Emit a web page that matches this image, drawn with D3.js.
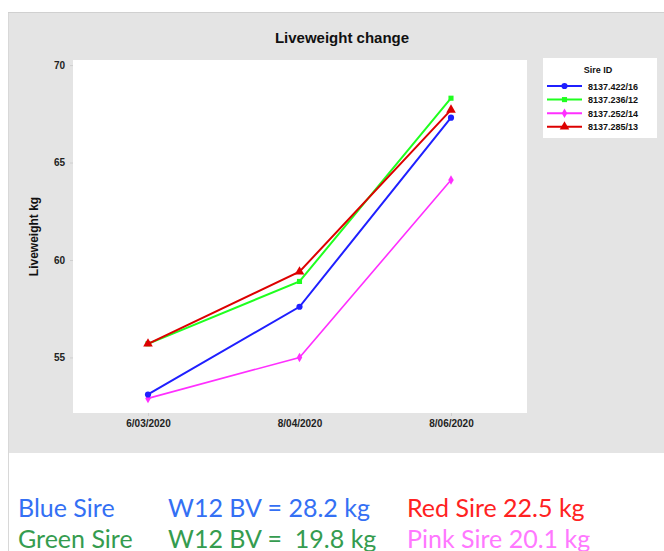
<!DOCTYPE html>
<html><head><meta charset="utf-8">
<script src="https://cdn.jsdelivr.net/npm/d3@7"></script>
<style>
html,body{margin:0;padding:0;background:#fff;}
svg{display:block;}
</style></head>
<body>
<script>
const dates = ["6/03/2020", "8/04/2020", "8/06/2020"];
const sireIds = ["8137.422/16", "8137.236/12", "8137.252/14", "8137.285/13"];
const blueValues = [53.1, 57.6, 67.3];
const greenValues = [55.7, 58.9, 68.3];
const pinkValues = [52.9, 55.0, 64.1];
const redValues = [55.7, 59.4, 67.7];
const seriesColors = ["#1f1fff", "#1fff1f", "#ff2fff", "#dd0000"];
const seriesSymbols = ["circle", "square", "diamond", "triangle"];
const yTicks = [55, 60, 65, 70];
const noteRows = [
  [{t:"Blue Sire", c:"#3470f4"}, {t:"W12 BV = 28.2 kg", c:"#3470f4"}, {t:"Red Sire 22.5 kg", c:"#ff2222"}],
  [{t:"Green Sire", c:"#359c4f"}, {t:"W12 BV =  19.8 kg", c:"#359c4f"}, {t:"Pink Sire 20.1 kg", c:"#ff78ff"}]
];

const series = sireIds.map((id, i) => ({
  id, color: seriesColors[i], symbol: seriesSymbols[i],
  values: [blueValues, greenValues, pinkValues, redValues][i]
}));

const W = 664, H = 551;
const svg = d3.select("body").append("svg").attr("width", W).attr("height", H);

// gray panel
svg.append("rect").attr("x", 8).attr("y", 13).attr("width", W - 8).attr("height", 440).attr("fill", "#e4e4e4");
svg.append("line").attr("x1", 8.5).attr("x2", 8.5).attr("y1", 13).attr("y2", H).attr("stroke", "#d8d8d8");
svg.append("line").attr("x1", 8).attr("x2", W).attr("y1", 12.5).attr("y2", 12.5).attr("stroke", "#d0d0d0");

const plot = {l: 73, t: 60, r: 527, b: 413};
svg.append("rect").attr("x", plot.l).attr("y", plot.t).attr("width", plot.r - plot.l).attr("height", plot.b - plot.t).attr("fill", "#fff");

const x = d3.scalePoint().domain(dates).range([148, 451]);
const y = d3.scaleLinear().domain([52.15, 70.26]).range([plot.b, plot.t]);

const font = "'Liberation Sans Narrow', 'Liberation Sans', Arial, sans-serif";

// axes
const xAxis = svg.append("g").attr("transform", `translate(0,${plot.b})`)
  .call(d3.axisBottom(x).tickSize(3).tickPadding(4));
xAxis.select(".domain").remove();
xAxis.selectAll("line").attr("stroke", "#cfcfcf");
xAxis.selectAll("text").attr("font-family", font).attr("font-size", 10).attr("font-weight", "bold").attr("fill", "#222");

const yAxis = svg.append("g").attr("transform", `translate(${plot.l},0)`)
  .call(d3.axisLeft(y).tickValues(yTicks).tickSize(3).tickPadding(5));
yAxis.select(".domain").remove();
yAxis.selectAll("line").attr("stroke", "#cfcfcf");
yAxis.selectAll("text").attr("font-family", font).attr("font-size", 10).attr("font-weight", "bold").attr("fill", "#222");

svg.append("text").attr("transform", `translate(38,${(plot.t + plot.b) / 2}) rotate(-90)`)
  .attr("text-anchor", "middle").attr("font-family", font).attr("font-size", 12).attr("font-weight", "bold")
  .attr("fill", "#111").text("Liveweight kg");

svg.append("text").attr("x", 342).attr("y", 43).attr("text-anchor", "middle")
  .attr("font-family", font).attr("font-size", 15).attr("font-weight", "bold").attr("fill", "#111")
  .text("Liveweight change");

const symMap = {circle: d3.symbolCircle, square: d3.symbolSquare, diamond: d3.symbolDiamond, triangle: d3.symbolTriangle};
const symSize = {circle: 30, square: 26, diamond: 26, triangle: 40};

const line = d3.line().x((d, i) => x(dates[i])).y(d => y(d));
const drawOrder = [2, 0, 1, 3];
drawOrder.forEach(k => {
  const s = series[k];
  svg.append("path").attr("d", line(s.values)).attr("fill", "none").attr("stroke", s.color)
    .attr("stroke-width", k === 2 ? 1.6 : 2);
  svg.selectAll(null).data(s.values).enter().append("path")
    .attr("transform", (d, i) => `translate(${x(dates[i])},${y(d)})`)
    .attr("d", d3.symbol().type(symMap[s.symbol]).size(symSize[s.symbol]))
    .attr("fill", s.color);
});

// legend
const lg = svg.append("g");
lg.append("rect").attr("x", 543).attr("y", 58).attr("width", 114).attr("height", 80).attr("fill", "#fff");
lg.append("text").attr("x", 598).attr("y", 73).attr("text-anchor", "middle").attr("font-family", font)
  .attr("font-size", 9).attr("font-weight", "bold").attr("fill", "#111").text("Sire ID");
series.forEach((s, i) => {
  const yy = 86 + i * 13.6;
  lg.append("line").attr("x1", 547).attr("x2", 582).attr("y1", yy).attr("y2", yy).attr("stroke", s.color).attr("stroke-width", 2);
  lg.append("path").attr("transform", `translate(564.5,${yy})`)
    .attr("d", d3.symbol().type(symMap[s.symbol]).size(symSize[s.symbol])).attr("fill", s.color);
  lg.append("text").attr("x", 588).attr("y", yy + 3.5).attr("font-family", font).attr("font-size", 9)
    .attr("font-weight", "bold").attr("fill", "#111").text(s.id);
});

// notes
const colX = [18, 168, 407];
noteRows.forEach((row, r) => {
  row.forEach((c, j) => {
    svg.append("text").attr("x", colX[j]).attr("y", 517 + r * 31)
      .attr("font-family", "Lato, 'Open Sans', sans-serif").attr("font-size", 25)
      .attr("fill", c.c).style("white-space", "pre").attr("xml:space", "preserve").text(c.t);
  });
});
</script>
</body></html>
